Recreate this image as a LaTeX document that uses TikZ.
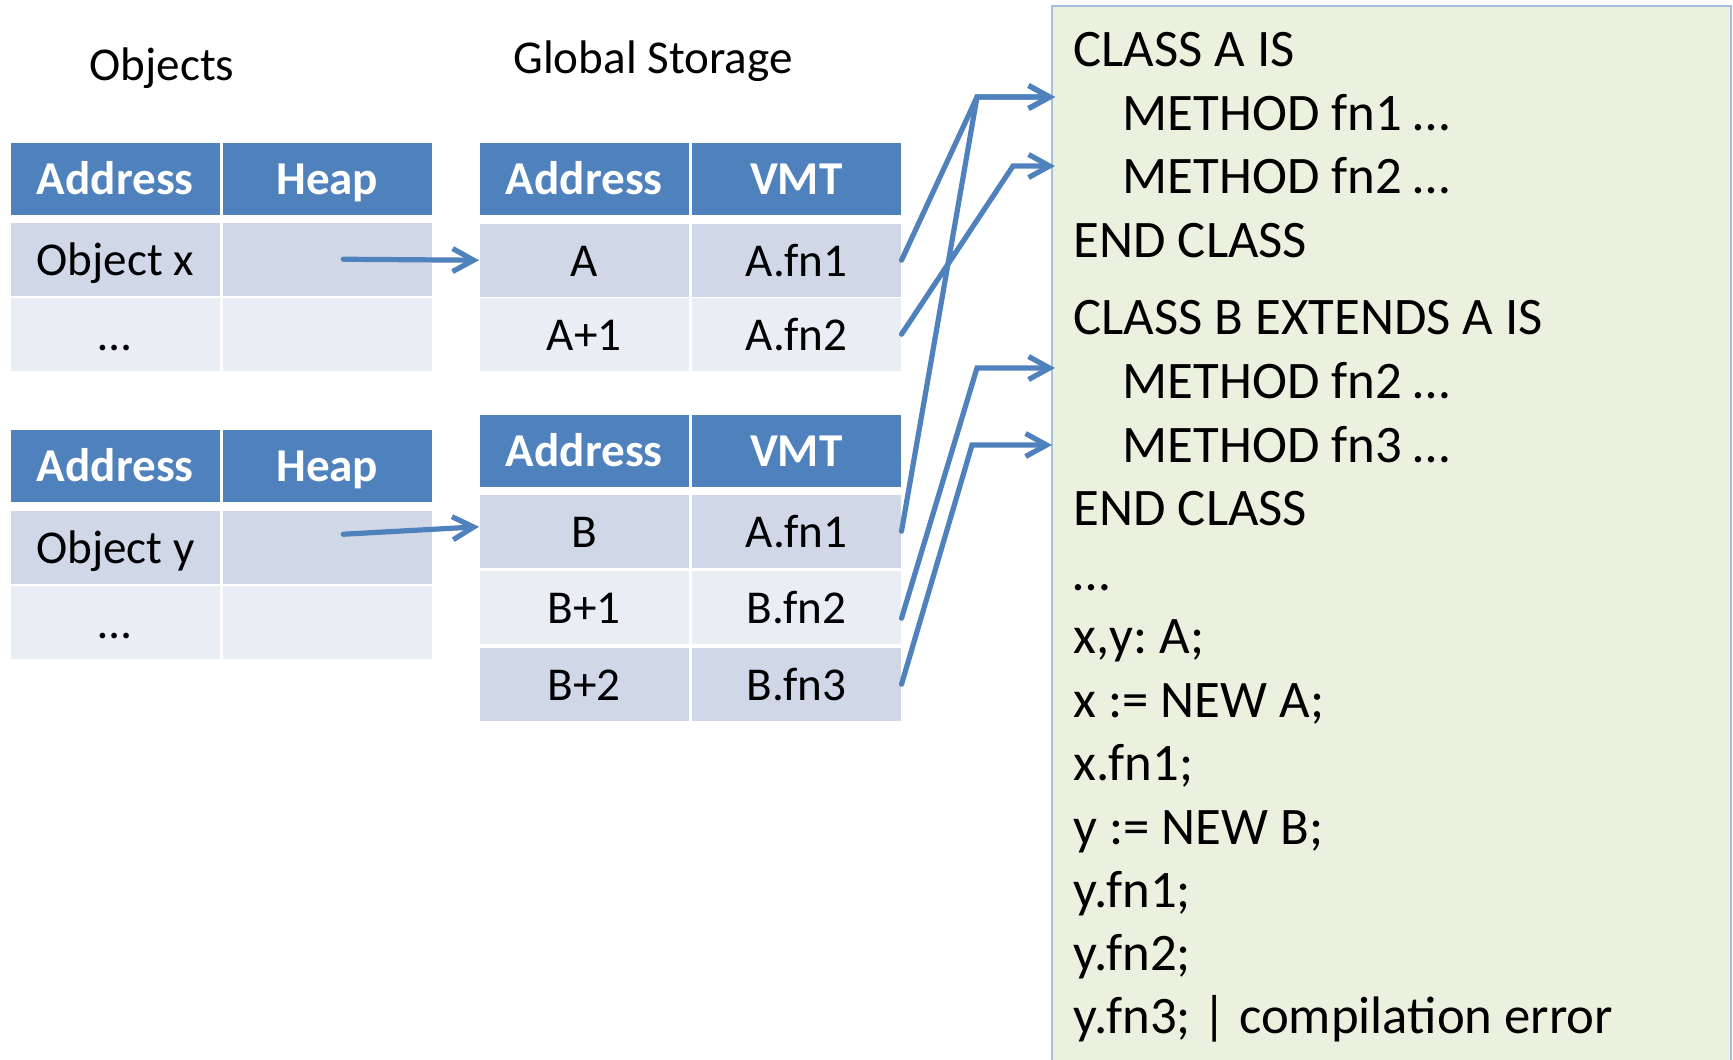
\documentclass[tikz,border=0pt]{standalone}
\usepackage{fontspec}
\setmainfont{Carlito}
\usetikzlibrary{arrows.meta}

\definecolor{hdrblue}{HTML}{4F81BD}
\definecolor{rowdark}{HTML}{D0D8E8}
\definecolor{rowlight}{HTML}{E9EDF4}
\definecolor{codefill}{HTML}{EBF1DE}
\definecolor{codeline}{HTML}{A7BFDE}
\newcommand\tblfont{\fontsize{13.4pt}{16pt}\selectfont}
\newcommand\srcfont{\fontsize{15pt}{18pt}\selectfont}
\frenchspacing

\begin{document}
\begin{tikzpicture}[
  x=0.01cm, y=-0.01cm,
  cell/.style={anchor=north west, minimum width=2.09cm, minimum height=0.73cm, inner sep=0pt, text height=0.38cm, text depth=0.06cm, font=\tblfont},
  hdr/.style={cell, minimum height=0.72cm, fill=hdrblue, text=white, font=\tblfont\bfseries},
  oddrow/.style={cell, fill=rowdark},
  evenrow/.style={cell, fill=rowlight},
  title/.style={anchor=base, inner sep=0pt, font=\tblfont},
  src/.style={anchor=base west, inner sep=0pt, font=\srcfont},
  arr/.style={-{Straight Barb[length=0.21cm,width=0.23cm]}, line width=0.052cm, draw=hdrblue, line cap=round}
]
\clip (0,0) rectangle (1733,1059);
\fill[white] (0,0) rectangle (1733,1059);
\draw[fill=codefill, draw=codeline, line width=0.015cm] (1052,6) rectangle (1731,1070);

\node[title] (objtitle) at (162,80) {Objects};
\node[title] (gstitle) at (653,73) {Global Storage};

\node[hdr] (objxaddr) at (10,142) {Address};
\node[hdr] (objxheap) at (222,142) {Heap};
\node[oddrow] (objx) at (10,222) {Object x};
\node[oddrow] (objxptr) at (222,222) {};
\node[evenrow] (objxmore) at (10,297) {…};
\node[evenrow] (objxmoreptr) at (222,297) {};

\node[hdr] (vmtaaddr) at (479,142) {Address};
\node[hdr] (vmtahead) at (691,142) {VMT};
\node[oddrow] (vmta) at (479,223) {A};
\node[oddrow] (vmtafn1) at (691,223) {A.fn1};
\node[evenrow] (vmtaa) at (479,297) {A+1};
\node[evenrow] (vmtafn2) at (691,297) {A.fn2};

\node[hdr] (objyaddr) at (10,429) {Address};
\node[hdr] (objyheap) at (222,429) {Heap};
\node[oddrow] (objy) at (10,510) {Object y};
\node[oddrow] (objyptr) at (222,510) {};
\node[evenrow] (objymore) at (10,585) {…};
\node[evenrow] (objymoreptr) at (222,585) {};

\node[hdr] (vmtbaddr) at (479,414) {Address};
\node[hdr] (vmtbhead) at (691,414) {VMT};
\node[oddrow] (vmtb) at (479,494) {B};
\node[oddrow] (vmtbfn1) at (691,494) {A.fn1};
\node[evenrow] (vmtbb) at (479,570) {B+1};
\node[evenrow] (vmtbfn2) at (691,570) {B.fn2};
\node[oddrow] (vmtbbb) at (479,647) {B+2};
\node[oddrow] (vmtbfn3) at (691,647) {B.fn3};

\node[src] (clsa) at (1073,66) {CLASS A IS};
\node[src] (clsafn1) at (1122,130) {METHOD fn1 …};
\node[src] (clsafn2) at (1122,193) {METHOD fn2 …};
\node[src] (clsaend) at (1073,257) {END CLASS};
\node[src] (clsb) at (1073,334) {CLASS B EXTENDS A IS};
\node[src] (clsbfn2) at (1122,398) {METHOD fn2 …};
\node[src] (clsbfn3) at (1122,462) {METHOD fn3 …};
\node[src] (clsbend) at (1073,525) {END CLASS};
\node[src] (srcmore) at (1073,590) {…};
\node[src] (srcdecl) at (1073,653) {x,y: A;};
\node[src] (srcnewx) at (1073,717) {x := NEW A;};
\node[src] (srcxfn1) at (1073,780) {x.fn1;};
\node[src] (srcnewy) at (1073,844) {y := NEW B;};
\node[src] (srcyfn1) at (1073,907) {y.fn1;};
\node[src] (srcyfn2) at (1073,970) {y.fn2;};
\node[src] (srcyfn3) at (1073,1033) {y.fn3; | compilation error};

\coordinate (kneefna) at (977,97);
\coordinate (tipfna) at (1055,97);
\coordinate (kneefnb) at (1013,166);
\coordinate (tipfnb) at (1055,166);
\coordinate (kneebfnb) at (977,368);
\coordinate (tipbfnb) at (1055,368);
\coordinate (kneebfnc) at (972,445);
\coordinate (tipbfnc) at (1052,445);

\draw[arr] ([xshift=0.16cm]objxptr.center) -- (vmta.west);
\draw[arr] ([xshift=0.16cm,yshift=0.13cm]objyptr.center) -- ([yshift=0.045cm]vmtb.west);
\draw[arr] (vmtafn1.east) -- (kneefna) -- (tipfna);
\draw[arr] (vmtafn2.east) -- (kneefnb) -- (tipfnb);
\draw[arr] (vmtbfn1.east) -- (kneefna) -- (tipfna);
\draw[arr] ([yshift=-0.11cm]vmtbfn2.east) -- (kneebfnb) -- (tipbfnb);
\draw[arr] (vmtbfn3.east) -- (kneebfnc) -- (tipbfnc);
\end{tikzpicture}
\end{document}
